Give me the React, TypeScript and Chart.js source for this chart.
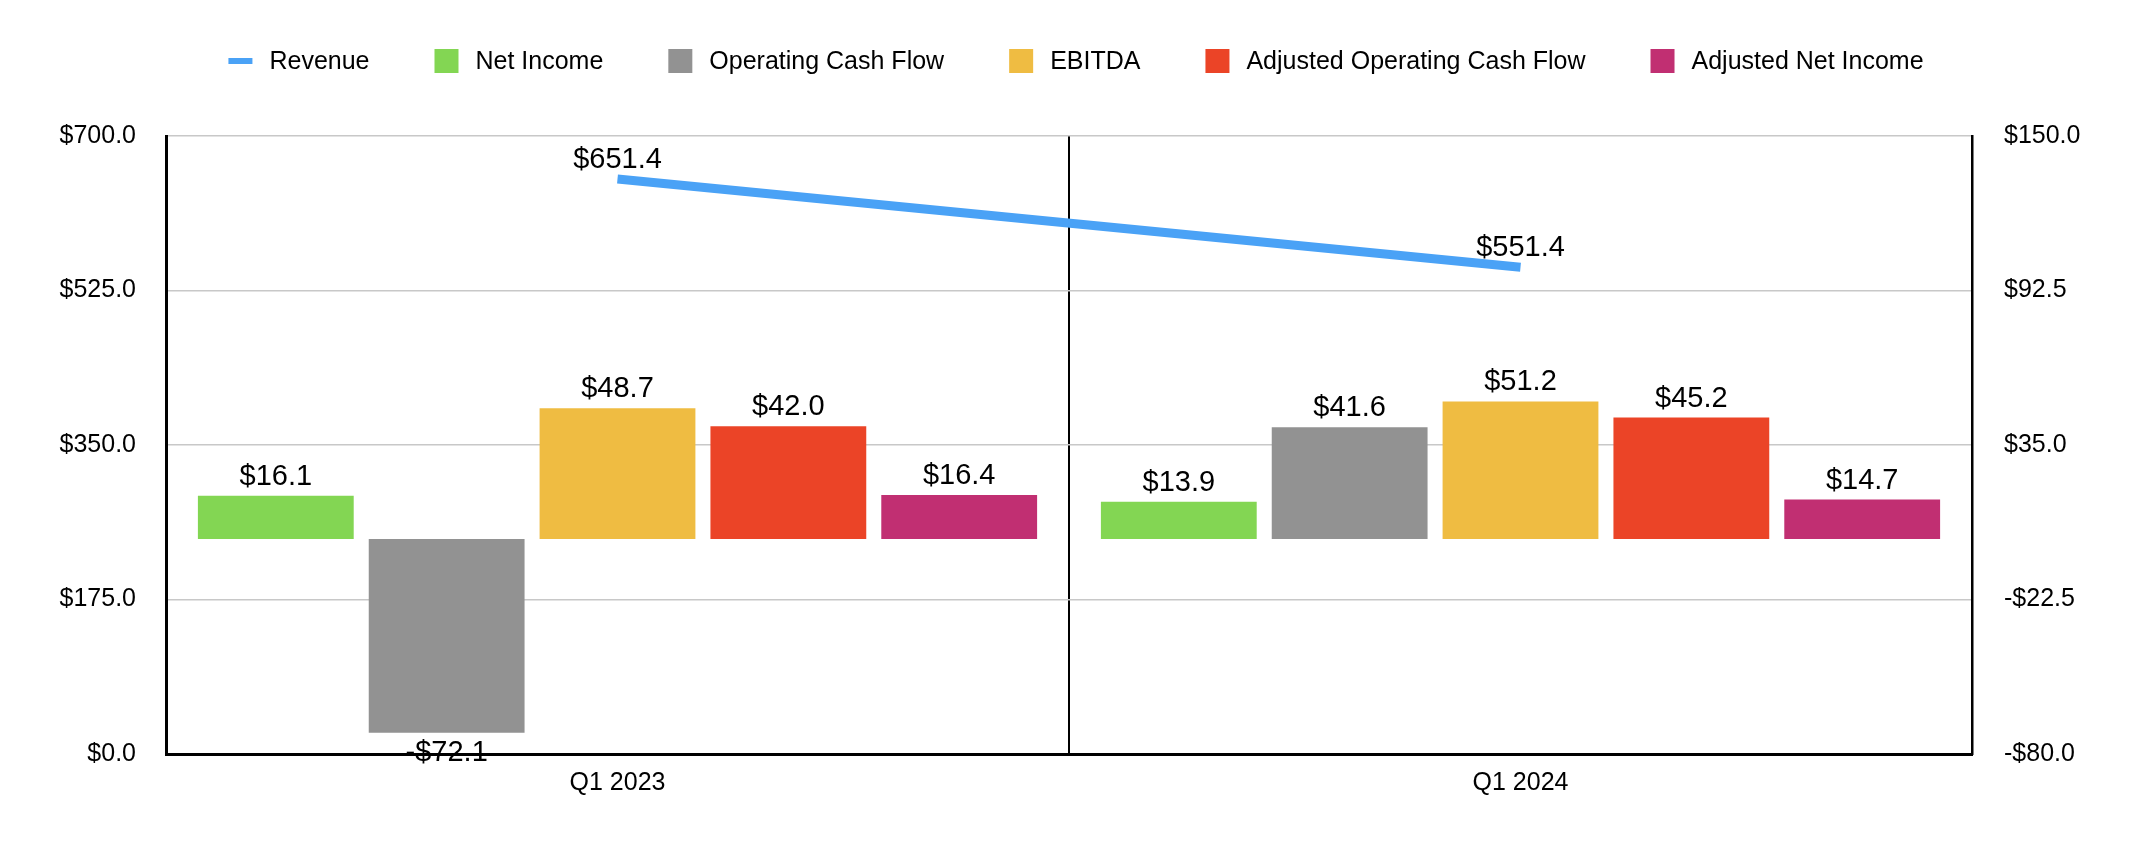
import React, { useEffect, useRef } from "react";
import { Chart, registerables } from "chart.js";

Chart.register(...registerables);

const categories = ["Q1 2023", "Q1 2024"];
const revenue = [651.4, 551.4];
const netIncome = [16.1, 13.9];
const operatingCashFlow = [-72.1, 41.6];
const ebitda = [48.7, 51.2];
const adjustedOperatingCashFlow = [42.0, 45.2];
const adjustedNetIncome = [16.4, 14.7];
const leftTicks = [0, 175, 350, 525, 700];
const rightTicks = [-80, -22.5, 35, 92.5, 150];

const FONT = '"Liberation Sans", Arial, Helvetica, sans-serif';

const fmt = (v: number) => (v < 0 ? "-$" : "$") + Math.abs(v).toFixed(1);

const legendPlugin = {
  id: "customLegend",
  afterDraw(chart: any) {
    const ctx = chart.ctx;
    const items = chart.data.datasets.map((ds: any) => ({
      label: ds.label,
      color: ds.type === "line" ? ds.borderColor : ds.backgroundColor,
      line: ds.type === "line",
    }));
    ctx.save();
    ctx.font = `25px ${FONT}`;
    const sw = 24;
    const gap = 17;
    const spacing = 65;
    const widths = items.map((it: any) => sw + gap + ctx.measureText(it.label).width);
    const total = widths.reduce((a: number, b: number) => a + b, 0) + spacing * (items.length - 1);
    let x = 1076 - total / 2;
    const y = 61;
    items.forEach((it: any, i: number) => {
      ctx.fillStyle = it.color;
      if (it.line) {
        ctx.fillRect(x, y - 3, sw, 6);
      } else {
        ctx.fillRect(x, y - 12, sw, 24);
      }
      ctx.fillStyle = "#000";
      ctx.textBaseline = "middle";
      ctx.textAlign = "left";
      ctx.fillText(it.label, x + sw + gap, y + 1);
      x += widths[i] + spacing;
    });
    ctx.restore();
  },
};

const dataLabelPlugin = {
  id: "dataLabels",
  afterDatasetsDraw(chart: any) {
    const ctx = chart.ctx;
    ctx.save();
    ctx.font = `29px ${FONT}`;
    ctx.fillStyle = "#000";
    ctx.textAlign = "center";
    ctx.textBaseline = "middle";
    chart.data.datasets.forEach((ds: any, i: number) => {
      const meta = chart.getDatasetMeta(i);
      meta.data.forEach((el: any, j: number) => {
        const v = ds.data[j];
        const yy = v < 0 ? el.y + 20 : el.y - 19;
        ctx.fillText(fmt(v), el.x, yy);
      });
    });
    ctx.restore();
  },
};

export default function App() {
  const ref = useRef<HTMLCanvasElement | null>(null);

  useEffect(() => {
    if (!ref.current) return;
    const barCommon = {
      type: "bar" as const,
      yAxisID: "y1",
      categoryPercentage: 0.946,
      barPercentage: 0.912,
      borderWidth: 0,
    };
    const chart = new Chart(ref.current, {
      type: "bar",
      data: {
        labels: categories,
        datasets: [
          {
            type: "line",
            label: "Revenue",
            data: revenue,
            yAxisID: "y",
            borderColor: "#4aa2f6",
            backgroundColor: "#4aa2f6",
            borderWidth: 9,
            pointRadius: 0,
            borderCapStyle: "butt",
            tension: 0,
          } as any,
          { ...barCommon, label: "Net Income", data: netIncome, backgroundColor: "#83d653" },
          { ...barCommon, label: "Operating Cash Flow", data: operatingCashFlow, backgroundColor: "#929292" },
          { ...barCommon, label: "EBITDA", data: ebitda, backgroundColor: "#efbc42" },
          { ...barCommon, label: "Adjusted Operating Cash Flow", data: adjustedOperatingCashFlow, backgroundColor: "#eb4427" },
          { ...barCommon, label: "Adjusted Net Income", data: adjustedNetIncome, backgroundColor: "#c12f72" },
        ],
      },
      options: {
        animation: false,
        responsive: false,
        devicePixelRatio: 1,
        layout: { padding: { top: 136, left: 0, right: 0, bottom: 0 } },
        plugins: {
          legend: { display: false },
          tooltip: { enabled: false },
        },
        scales: {
          x: {
            type: "category",
            offset: true,
            grid: { color: "#000", lineWidth: 2, drawTicks: false, offset: true },
            border: { color: "#000", width: 3 },
            ticks: { color: "#000", font: { family: FONT, size: 25 }, padding: 14 },
            afterFit: (s: any) => {
              s.height = 104;
            },
          },
          y: {
            type: "linear",
            position: "left",
            min: 0,
            max: 700,
            afterBuildTicks: (s: any) => {
              s.ticks = leftTicks.map((v) => ({ value: v }));
            },
            grid: { color: "#c8c8c8", lineWidth: 1.5, drawTicks: false },
            border: { color: "#000", width: 3 },
            ticks: {
              color: "#000",
              font: { family: FONT, size: 25 },
              padding: 30,
              callback: (v: any) => fmt(Number(v)),
            },
            afterFit: (s: any) => {
              s.width = 166;
            },
          },
          y1: {
            type: "linear",
            position: "right",
            min: -80,
            max: 150,
            afterBuildTicks: (s: any) => {
              s.ticks = rightTicks.map((v) => ({ value: v }));
            },
            grid: { drawOnChartArea: false, drawTicks: false },
            border: { color: "#000", width: 2.5 },
            ticks: {
              color: "#000",
              font: { family: FONT, size: 25 },
              padding: 32,
              callback: (v: any) => fmt(Number(v)),
            },
            afterFit: (s: any) => {
              s.width = 162;
            },
          },
        },
      } as any,
      plugins: [legendPlugin, dataLabelPlugin],
    });
    return () => chart.destroy();
  }, []);

  return (
    <div style={{ position: "fixed", left: 0, top: 0, width: 2134, height: 858, background: "#fff" }}>
      <canvas ref={ref} width={2134} height={858} style={{ width: 2134, height: 858 }} />
    </div>
  );
}
